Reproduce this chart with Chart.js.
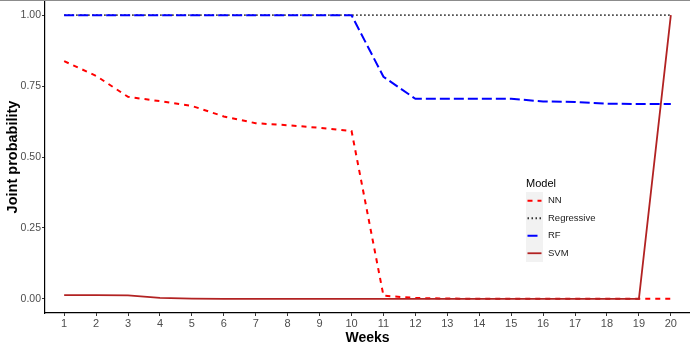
<!DOCTYPE html>
<html>
<head>
<meta charset="utf-8">
<script src="https://cdn.jsdelivr.net/npm/chart.js@4.4.0/dist/chart.umd.min.js"></script>
<style>
  html, body { margin: 0; padding: 0; background: #fff; }
  #wrap { position: relative; width: 690px; height: 347px; border-top: 1px solid #8c8c8c; box-sizing: border-box; }
</style>
</head>
<body>
<div id="wrap"><canvas id="probChart"></canvas></div>
<script>
// weeks on the x axis
const weeks = [1, 2, 3, 4, 5, 6, 7, 8, 9, 10, 11, 12, 13, 14, 15, 16, 17, 18, 19, 20];
const yTicks = [0, 0.25, 0.5, 0.75, 1];

const nnValues  = [0.838, 0.786, 0.712, 0.697, 0.680, 0.643, 0.619, 0.612, 0.603, 0.592, 0.011, 0.003, 0.001, 0, 0, 0, 0, 0, 0, 0];
const regValues = [1, 1, 1, 1, 1, 1, 1, 1, 1, 1, 1, 1, 1, 1, 1, 1, 1, 1, 1, 1];
const rfValues  = [1, 1, 1, 1, 1, 1, 1, 1, 1, 1, 0.783, 0.705, 0.705, 0.705, 0.705, 0.696, 0.694, 0.688, 0.687, 0.687];
const svmValues = [0.013, 0.013, 0.012, 0.003, 0.001, 0, 0, 0, 0, 0, 0, 0, 0, 0, 0, 0, 0, 0, 0, 1];

const toPoints = vals => weeks.map((w, i) => ({ x: w, y: vals[i] }));

const series = [
    { label: 'NN', data: nnValues, color: '#ff0000', dash: [5, 5], width: 2, order: 3 },
    { label: 'Regressive', data: regValues, color: '#333333', dash: [1.5, 2.5], width: 1.8, order: 2 },
    { label: 'RF', data: rfValues, color: '#0000ff', dash: [10, 4], width: 2, order: 1 },
    { label: 'SVM', data: svmValues, color: '#b22222', dash: [], width: 1.8, order: 0 }
];

// legend drawn inside the panel like ggplot
const modelLegend = {
    id: 'modelLegend',
    afterDraw(chart) {
        const ctx = chart.ctx;
        const x0 = 526, top = 191, keyW = 17, keyH = 17.5;
        ctx.save();
        ctx.fillStyle = '#000';
        ctx.font = '11px "Liberation Sans", Arial, sans-serif';
        ctx.textBaseline = 'alphabetic';
        ctx.textAlign = 'left';
        ctx.fillText('Model', x0, 186);
        ctx.fillStyle = '#f2f2f2';
        ctx.fillRect(x0, top, keyW, keyH * series.length);
        series.forEach((s, i) => {
            const cy = top + keyH * i + keyH / 2;
            ctx.strokeStyle = s.color;
            ctx.lineWidth = s.width;
            ctx.setLineDash(s.dash);
            ctx.beginPath();
            ctx.moveTo(x0 + 1.5, cy);
            ctx.lineTo(x0 + keyW - 1.5, cy);
            ctx.stroke();
            ctx.setLineDash([]);
            ctx.fillStyle = '#1a1a1a';
            ctx.font = '9.5px "Liberation Sans", Arial, sans-serif';
            ctx.textBaseline = 'middle';
            ctx.fillText(s.label, x0 + 22, cy);
        });
        ctx.restore();
    }
};

const ctx = document.getElementById('probChart');
new Chart(ctx, {
    type: 'line',
    data: {
        datasets: series.map(s => ({
            label: s.label,
            data: toPoints(s.data),
            borderColor: s.color,
            borderWidth: s.width,
            borderDash: s.dash,
            pointRadius: 0,
            fill: false,
            tension: 0,
            order: s.order
        }))
    },
    options: {
        responsive: true,
        maintainAspectRatio: false,
        animation: false,
        layout: { padding: { top: 0, right: 0, left: 0, bottom: 0 } },
        plugins: { legend: { display: false }, tooltip: { enabled: false } },
        scales: {
            x: {
                type: 'linear',
                min: 0.4,
                max: 20.6,
                afterBuildTicks: axis => { axis.ticks = weeks.map(v => ({ value: v })); },
                afterFit: axis => { axis.height = 34; axis.paddingLeft = 0; axis.paddingRight = 0; },
                ticks: {
                    color: '#4d4d4d',
                    font: { family: '"Liberation Sans", Arial, sans-serif', size: 11 },
                    padding: 1,
                    maxRotation: 0,
                    autoSkip: false
                },
                grid: { drawOnChartArea: false, tickLength: 3, color: '#333' },
                border: { color: '#000', width: 1.2 },
                title: {
                    display: true,
                    text: 'Weeks',
                    color: '#000',
                    font: { family: '"Liberation Sans", Arial, sans-serif', size: 14, weight: 'bold' },
                    padding: { top: 0, bottom: 0 }
                }
            },
            y: {
                min: -0.05,
                max: 1.05,
                afterBuildTicks: axis => { axis.ticks = yTicks.map(v => ({ value: v })); },
                afterFit: axis => { axis.width = 45; axis.paddingTop = 0; axis.paddingBottom = 0; },
                ticks: {
                    color: '#4d4d4d',
                    font: { family: '"Liberation Sans", Arial, sans-serif', size: 10.5 },
                    padding: 1,
                    callback: v => v.toFixed(2)
                },
                grid: { drawOnChartArea: false, tickLength: 3, color: '#333' },
                border: { color: '#000', width: 1.2 },
                title: {
                    display: true,
                    text: 'Joint probability',
                    color: '#000',
                    font: { family: '"Liberation Sans", Arial, sans-serif', size: 14.5, weight: 'bold' },
                    padding: { top: 4, bottom: 0 }
                }
            }
        }
    },
    plugins: [modelLegend]
});
</script>
</body>
</html>
